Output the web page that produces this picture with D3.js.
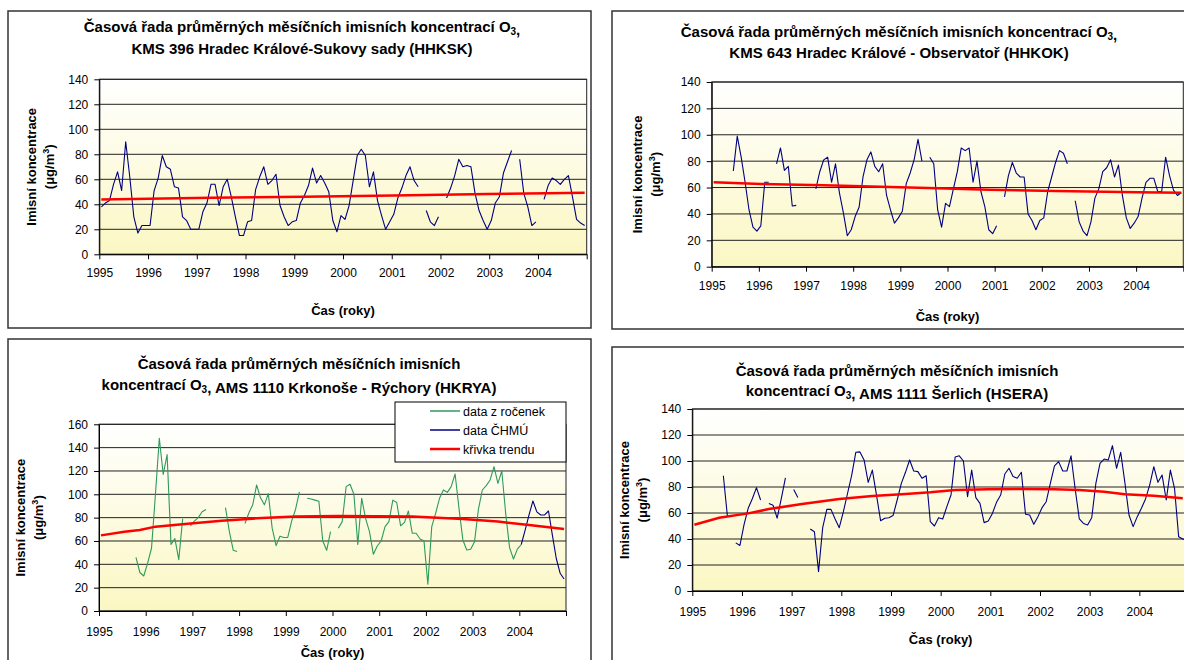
<!DOCTYPE html>
<meta charset="utf-8">
<style>
html, body { margin: 0; padding: 0; background: #fff; overflow: hidden; }
svg { display: block; font-family: "Liberation Sans", Arial, sans-serif; }
.title { font-weight: bold; font-size: 15px; text-anchor: middle; }
.axis-title { font-weight: bold; font-size: 13px; text-anchor: middle; }
.axis text { font-size: 12px; fill: #000; font-family: "Liberation Sans", Arial, sans-serif; }
.axis path, .axis line { stroke: #000; }
.grid line { stroke: #222; stroke-width: 1; }
.legend text { font-size: 12.5px; }
</style>
<svg width="1184" height="660"></svg>
<script src="https://d3js.org/d3.v7.min.js"></script>
<script>

var yearLabels = ["1995","1996","1997","1998","1999","2000","2001","2002","2003","2004"];

// monthly means 1995-01 .. 2004-12, null = missing
var hhksk = [38,41,43,56,66,51,90,62,30,17,23,23,
  23,51,61,79,70,68,54,53,30,27,20,20,
  20,34,41,56,56,39,54,60,46,30,15,15,
  26,27,52,62,70,56,59,64,39,30,23,26,
  27,41,47,55,69,57,63,57,50,27,18,31,
  28,39,59,79,84,79,54,66,43,31,20,26,
  32,45,53,63,70,59,54,null,35,26,23,30,
  null,45,53,63,76,70,71,70,49,35,27,20,
  27,41,46,65,74,83,null,76,49,38,23,26,
  null,44,55,61,59,56,60,63,46,28,25,23];
var hhkskTrend = [[0,43.8],[27,45.2],[50,46],[72,47],[95,48.2],[119,49.3]];

var hhkok = [null,null,null,null,null,72.5,99,83,64,43,30,27,
  31,64,64,null,78,90,73,76,46,46.5,null,null,
  null,null,59,72,81,83,64,78,56,41,23.5,28,
  38,45,68,81,87,76,72,78,54,43,33,37,
  42,63,71,81,96.5,80,null,83,78,43,30,48,
  45.5,59,72,90,88,90,64,80,57,45.5,28,25,
  31,null,53,69,79,71,68,68,40,35,28,35,
  37,57,68,79,88,86,78,null,50,34,27,23.5,
  34,52,59,72,75,81,68,77,54,37,29,33,
  38,52,64,67,67,57,57,83,69,58,54,56];
var hhkokTrend = [[0,64],[12,62.7],[28,61.7],[45,60.4],[57,59.4],[70,58.4],[87,57.4],[108,56.4],[119,56.1]];

var hkryaRocenky = [null,null,null,null,null,null,null,null,null,46,33,30,
  41,54,100,148,117,134,57,62,44,79,null,73,
  77,80,85,87,null,null,null,null,88.6,68,52,51,
  null,75,84,91,108,97,91,100.6,71,56,64,63,
  63,77,87,102,null,96.6,96,95,94,60,52,68,
  null,71,76.6,106.6,108.6,100,57,96.6,79.4,68,48.6,55.7,
  60,72.3,76.6,95,93,73,76,85.7,66.6,66.6,61.7,60.3,
  22.9,72.3,83.7,96.6,103.7,101.7,106.6,117.4,88,60.9,52.3,52.9,
  59.4,87.4,103.7,107.4,112.3,123.7,109.4,120,83.7,54.3,44.6,53,
  57,null,null,null,null,null,null,null,null,null,null,null];
var hkryaChmu = [null,null,null,null,null,null,null,null,null,null,null,null,
  null,null,null,null,null,null,null,null,null,null,null,null,
  null,null,null,null,null,null,null,null,null,null,null,null,
  null,null,null,null,null,null,null,null,null,null,null,null,
  null,null,null,null,null,null,null,null,null,null,null,null,
  null,null,null,null,null,null,null,null,null,null,null,null,
  null,null,null,null,null,null,null,null,null,null,null,null,
  null,null,null,null,null,null,null,null,null,null,null,null,
  null,null,null,null,null,null,null,null,null,null,null,null,
  57,69.4,82.3,94.3,85,82.3,82.3,85.7,65,45,32.3,27.4];
var hkryaTrend = [[0,64.8],[6,68],[10,69.4],[14,72.3],[23,75],[31,77.4],[40,79.4],[50,80.9],[61,81.5],[80,81],[93,78.9],[102,76.6],[110,73.7],[119,70.3]];

var hsera = [null,null,null,null,null,null,null,88.7,57,null,37,35,
  51,63.6,71,79.5,70,null,67.4,66,56,71,87,null,
  78,72,null,null,47.7,45.6,14.9,48.7,62.8,62.8,55.4,48.7,
  61,75,89,106.7,107,100.8,83.6,93,73.8,54,56,56.4,
  58,70,82.8,91.3,100.8,92.3,91.8,86.7,88.7,53.3,50,56.4,
  55.4,64.9,73.8,103,104,100,72.6,93,71.8,67.4,52.6,53.8,
  59.7,68.2,73.8,90,94.4,88,86.7,91.3,59,58.5,51.3,57.2,
  64.1,68.7,82.8,96.2,99.5,92.3,92.3,104,78.5,55.4,52,50.8,
  56.4,82.8,98.2,101.5,100.8,111.8,94.4,106.7,83.6,58.5,49.5,57.2,
  63.6,70.8,81.5,95.6,83.6,89.2,70,93,79,41.8,40,39];
var hseraTrend = [[0,51],[6,56.4],[13,59.7],[18,63],[26,67],[35,70.8],[43,73],[51,74.6],[57,75.9],[63,77.7],[71,78.2],[79,78.5],[87,78.2],[93,77.7],[99,76.4],[104,74.4],[111,73.3],[118,71.3]];

var legendLabels = ["data z ročenek", "data ČHMÚ", "křivka trendu"];

var blue = "#000080", green = "#2e9a5c", red = "#ff0000";

var panels = [
  { box: [8, 11, 591, 328], plot: [99.3, 586.7, 79.3, 254.3], yMax: 140,
    title: ["Časová řada průměrných měsíčních imisních koncentrací O₃,", "KMS 396 Hradec Králové-Sukovy sady (HHKSK)"],
    titleX: 302, titleY: [32, 54], yTitleX: [36, 54], tickPad: 9, xTitleY: 315,
    series: [{ values: hhksk, color: blue }], trend: hhkskTrend },
  { box: [612, 11, 1196, 329], plot: [711.7, 1183.3, 82, 266.7], yMax: 140,
    title: ["Časová řada průměrných měsíčních imisních koncentrací O₃,", "KMS 643 Hradec Králové - Observatoř  (HHKOK)"],
    titleX: 899, titleY: [37, 58], yTitleX: [642, 660], tickPad: 10, xTitleY: 321,
    series: [{ values: hhkok, color: blue }], trend: hhkokTrend },
  { box: [8, 339, 591, 672], plot: [99, 566, 424.3, 611], yMax: 160,
    title: ["Časová řada průměrných měsíčních imisních", "koncentrací O₃, AMS 1110 Krkonoše - Rýchory (HKRYA)"],
    titleX: 299, titleY: [369, 390], yTitleX: [25, 43], tickPad: 11, xTitleY: 657,
    series: [{ values: hkryaRocenky, color: green }, { values: hkryaChmu, color: blue }], trend: hkryaTrend,
    legend: true },
  { box: [612, 347, 1196, 672], plot: [692.3, 1189, 409, 591], yMax: 140,
    title: ["Časová řada průměrných měsíčních imisních", "koncentrací O₃, AMS 1111 Šerlich (HSERA)"],
    titleX: 897, titleY: [376, 396], yTitleX: [629, 647], tickPad: 11, xTitleY: 644,
    series: [{ values: hsera, color: blue }], trend: hseraTrend }
];

var svg = d3.select("svg");
var defs = svg.append("defs");
var grad = defs.append("linearGradient").attr("id", "bg")
    .attr("x1", 0).attr("y1", 0).attr("x2", 0).attr("y2", 1);
grad.append("stop").attr("offset", "0%").attr("stop-color", "#ffffff");
grad.append("stop").attr("offset", "100%").attr("stop-color", "#fbf7c3");

panels.forEach(drawPanel);

function writeTitle(text, line) {
  var parts = line.split("₃");
  parts.forEach(function(p, k) {
    text.append("tspan").text(p);
    if (k < parts.length - 1) {
      text.append("tspan").attr("font-size", "10px").attr("dy", 3).text("3");
      text.append("tspan").attr("dy", -3).text("");
    }
  });
}

function drawPanel(p) {
  var g = svg.append("g");
  g.append("rect")
      .attr("x", p.box[0]).attr("y", p.box[1])
      .attr("width", p.box[2] - p.box[0]).attr("height", p.box[3] - p.box[1])
      .attr("fill", "#fff").attr("stroke", "#333").attr("stroke-width", 1.5);

  var x = d3.scaleLinear().domain([0, 120]).range([p.plot[0], p.plot[1]]);
  var y = d3.scaleLinear().domain([0, p.yMax]).range([p.plot[3], p.plot[2]]);

  g.append("rect")
      .attr("x", x(0)).attr("y", y(p.yMax))
      .attr("width", x(120) - x(0)).attr("height", y(0) - y(p.yMax))
      .attr("fill", "url(#bg)");

  var yTicks = d3.range(0, p.yMax + 1, 20);
  g.append("g").attr("class", "grid")
    .selectAll("line").data(yTicks).enter().append("line")
      .attr("x1", x(0)).attr("x2", x(120))
      .attr("y1", function(d) { return y(d); }).attr("y2", function(d) { return y(d); });

  g.append("rect")
      .attr("x", x(0)).attr("y", y(p.yMax))
      .attr("width", x(120) - x(0)).attr("height", y(0) - y(p.yMax))
      .attr("fill", "none").attr("stroke", "#222").attr("stroke-width", 1);

  g.append("g").attr("class", "axis")
      .attr("transform", "translate(" + x(0) + ",0)")
      .call(d3.axisLeft(y).tickValues(yTicks).tickSize(5).tickPadding(6).tickSizeOuter(0));

  g.append("g").attr("class", "axis")
      .attr("transform", "translate(0," + y(0) + ")")
      .call(d3.axisBottom(x).tickValues(d3.range(0, 121, 12)).tickSize(5).tickPadding(p.tickPad).tickSizeOuter(0)
        .tickFormat(function(d) { return yearLabels[d / 12] || ""; }));

  var line = d3.line()
      .defined(function(d) { return d != null; })
      .x(function(d, i) { return x(i + 0.5); })
      .y(function(d) { return y(d); });

  p.series.forEach(function(s) {
    g.append("path").datum(s.values)
        .attr("fill", "none").attr("stroke", s.color).attr("stroke-width", 1.1)
        .attr("stroke-linejoin", "round")
        .attr("d", line);
  });

  var trendLine = d3.line()
      .x(function(d) { return x(d[0] + 0.5); })
      .y(function(d) { return y(d[1]); });
  g.append("path").datum(p.trend)
      .attr("fill", "none").attr("stroke", red).attr("stroke-width", 2.5)
      .attr("d", trendLine);

  p.title.forEach(function(t, k) {
    var text = g.append("text").attr("class", "title")
        .attr("x", p.titleX).attr("y", p.titleY[k]);
    writeTitle(text, t);
  });

  var cy = (y(0) + y(p.yMax)) / 2;
  g.append("text").attr("class", "axis-title")
      .attr("transform", "translate(" + p.yTitleX[0] + "," + cy + ") rotate(-90)")
      .text("Imisní koncentrace");
  var unit = g.append("text").attr("class", "axis-title")
      .attr("transform", "translate(" + p.yTitleX[1] + "," + cy + ") rotate(-90)");
  unit.append("tspan").text("(μg/m");
  unit.append("tspan").attr("font-size", "9px").attr("dy", -5).text("3");
  unit.append("tspan").attr("dy", 5).text(")");

  g.append("text").attr("class", "axis-title")
      .attr("x", (x(0) + x(120)) / 2).attr("y", p.xTitleY)
      .text("Čas (roky)");

  if (p.legend) {
    var lg = g.append("g").attr("class", "legend");
    lg.append("rect").attr("x", 395).attr("y", 402).attr("width", 171).attr("height", 60)
        .attr("fill", "#fff").attr("stroke", "#000").attr("stroke-width", 1);
    var colors = [green, blue, red];
    var widths = [1.5, 1.5, 2.5];
    legendLabels.forEach(function(l, k) {
      var ly = 411 + k * 19;
      lg.append("line").attr("x1", 430).attr("x2", 460).attr("y1", ly).attr("y2", ly)
          .attr("stroke", colors[k]).attr("stroke-width", widths[k]);
      lg.append("text").attr("x", 463).attr("y", ly + 4.5).text(l);
    });
  }
}

</script>
